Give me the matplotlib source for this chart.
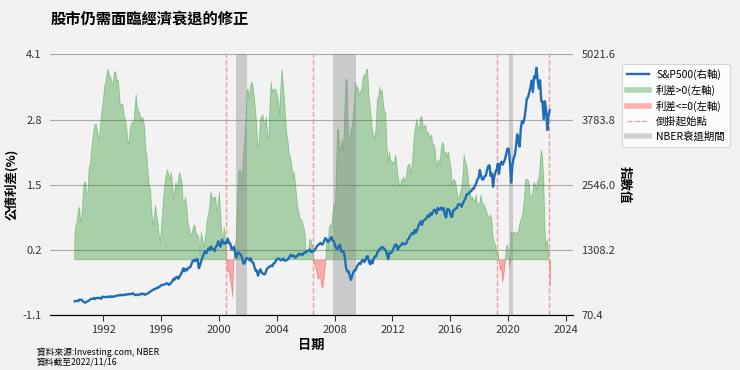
import numpy as np
import pandas as pd
import matplotlib
matplotlib.use('Agg')
import matplotlib.pyplot as plt
from matplotlib.lines import Line2D

plt.rcParams['font.family'] = ['Noto Sans CJK TC', 'DejaVu Sans']

# monthly points, Jan 1990 - Nov 2022
dates = pd.date_range('1990-01-01', '2022-11-01', freq='MS') + pd.Timedelta(days=14)

# 10Y - 3M treasury spread (%)
spread = np.array([
    0.45, 0.70, 0.75, 1.00, 1.05, 0.75, 0.85, 1.30, 1.55, 1.55, 1.30, 1.35,
    1.85, 1.90, 2.20, 2.40, 2.60, 2.70, 2.70, 2.55, 2.40, 2.55, 2.85, 3.05,
    3.25, 3.50, 3.55, 3.75, 3.80, 3.65, 3.65, 3.50, 3.55, 3.75, 3.75, 3.55,
    3.60, 3.35, 3.05, 3.10, 3.10, 2.90, 2.80, 2.65, 2.40, 2.30, 2.60, 2.70,
    2.75, 2.75, 3.00, 3.30, 3.05, 2.95, 2.95, 2.75, 2.85, 2.80, 2.65, 2.20,
    2.05, 1.70, 1.45, 1.40, 0.95, 0.70, 0.85, 1.10, 0.90, 0.75, 0.50, 0.35,
    0.65, 1.00, 1.30, 1.55, 1.70, 1.80, 1.70, 1.60, 1.75, 1.55, 1.20, 1.40,
    1.55, 1.40, 1.55, 1.75, 1.65, 1.55, 1.15, 1.15, 1.25, 1.05, 0.75, 0.65,
    0.50, 0.50, 0.60, 0.70, 0.65, 0.50, 0.50, 0.45, 0.10, 0.55, 0.40, 0.25,
    0.40, 0.55, 0.80, 0.90, 1.05, 1.35, 1.25, 1.20, 1.25, 1.25, 0.95, 1.10,
    1.35, 0.95, 0.55, 0.35, 0.65, 0.40, 0.05, -0.25, -0.20, -0.40, -0.50, -0.75,
    0.00, 0.20, 0.45, 1.25, 1.75, 1.80, 1.75, 1.60, 2.10, 2.40, 2.80, 3.40,
    3.40, 3.20, 3.50, 3.55, 3.45, 3.25, 3.00, 2.65, 2.25, 2.35, 2.80, 2.85,
    2.90, 2.75, 2.70, 2.85, 2.50, 2.40, 3.10, 3.55, 3.35, 3.40, 3.40, 3.40,
    3.30, 3.15, 2.90, 3.45, 3.80, 3.50, 3.20, 2.80, 2.50, 2.35, 2.10, 2.05,
    1.90, 1.65, 1.75, 1.55, 1.30, 1.05, 0.95, 0.80, 0.80, 0.75, 0.65, 0.55,
    0.15, 0.10, 0.20, 0.40, 0.40, 0.30, 0.10, -0.10, -0.15, -0.25, -0.40, -0.35,
    -0.35, -0.55, -0.55, -0.35, -0.10, 0.40, 0.15, 0.60, 0.70, 0.65, 0.90, 1.10,
    1.00, 1.65, 2.60, 2.60, 2.15, 2.25, 2.40, 2.20, 3.00, 3.60, 3.60, 2.45,
    2.40, 2.60, 2.65, 2.80, 3.15, 3.55, 3.40, 3.45, 3.30, 3.35, 3.40, 3.60,
    3.70, 3.65, 3.80, 3.80, 3.30, 3.10, 2.85, 2.55, 2.50, 2.40, 2.65, 3.20,
    3.25, 3.45, 3.30, 3.40, 3.15, 2.95, 2.95, 2.30, 1.95, 2.15, 2.00, 1.95,
    1.95, 1.90, 2.10, 1.95, 1.70, 1.55, 1.45, 1.60, 1.60, 1.65, 1.55, 1.65,
    1.85, 1.90, 1.90, 1.70, 1.90, 2.25, 2.55, 2.70, 2.80, 2.60, 2.65, 2.85,
    2.85, 2.65, 2.65, 2.70, 2.55, 2.55, 2.50, 2.40, 2.50, 2.30, 2.30, 2.20,
    1.85, 1.95, 2.00, 1.90, 2.20, 2.35, 2.30, 2.10, 2.15, 2.05, 2.15, 2.00,
    1.85, 1.50, 1.60, 1.60, 1.55, 1.40, 1.20, 1.25, 1.35, 1.45, 1.70, 2.10,
    1.95, 1.90, 1.75, 1.50, 1.40, 1.20, 1.25, 1.20, 1.15, 1.30, 1.10, 1.10,
    1.15, 1.30, 1.15, 1.10, 1.10, 1.00, 0.95, 0.85, 0.85, 0.90, 0.80, 0.45,
    0.35, 0.30, 0.15, 0.15, 0.00, -0.20, -0.15, -0.45, -0.30, -0.05, 0.25, 0.30,
    0.15, -0.15, 0.55, 0.50, 0.55, 0.55, 0.50, 0.55, 0.55, 0.70, 0.80, 0.85,
    1.00, 1.25, 1.60, 1.60, 1.60, 1.50, 1.25, 1.25, 1.35, 1.55, 1.50, 1.40,
    1.60, 1.60, 1.90, 2.20, 2.05, 1.65, 0.65, 0.25, 0.40, 0.10, -0.50,
])

# S&P 500 monthly close
sp500 = np.array([
    329.08, 331.89, 339.94, 330.80, 361.23, 358.02, 356.15, 322.56, 306.05, 304.00, 322.22, 330.22,
    343.93, 367.07, 375.22, 375.35, 389.83, 371.16, 387.81, 395.43, 387.86, 392.45, 375.22, 417.09,
    408.79, 412.70, 403.69, 414.95, 415.35, 408.14, 424.21, 414.03, 417.80, 418.68, 431.35, 435.71,
    438.78, 443.38, 451.67, 440.19, 450.19, 450.53, 448.13, 463.56, 458.93, 467.83, 461.79, 466.45,
    481.61, 467.14, 445.77, 450.91, 456.50, 444.27, 458.26, 475.49, 462.69, 472.35, 453.69, 459.27,
    470.42, 487.39, 500.71, 514.71, 533.40, 544.75, 562.06, 561.88, 584.41, 581.50, 605.37, 615.93,
    636.02, 640.43, 645.50, 654.17, 669.12, 670.63, 639.95, 651.99, 687.33, 705.27, 757.02, 740.74,
    786.16, 790.82, 757.12, 801.34, 848.28, 885.14, 954.31, 899.47, 947.28, 914.62, 955.40, 970.43,
    980.28, 1049.34, 1101.75, 1111.75, 1090.82, 1133.84, 1120.67, 957.28, 1017.01, 1098.67, 1163.63, 1229.23,
    1279.64, 1238.33, 1286.37, 1335.18, 1301.84, 1372.71, 1328.72, 1320.41, 1282.71, 1362.93, 1388.91, 1469.25,
    1394.46, 1366.42, 1498.58, 1452.43, 1420.60, 1454.60, 1430.83, 1517.68, 1436.51, 1429.40, 1314.95, 1320.28,
    1366.01, 1239.94, 1160.33, 1249.46, 1255.82, 1224.38, 1211.23, 1133.58, 1040.94, 1059.78, 1139.45, 1148.08,
    1130.20, 1106.73, 1147.39, 1076.92, 1067.14, 989.82, 911.62, 916.07, 815.28, 885.76, 936.31, 879.82,
    855.70, 841.15, 848.18, 916.92, 963.59, 974.50, 990.31, 1008.01, 995.97, 1050.71, 1058.20, 1111.92,
    1131.13, 1144.94, 1126.21, 1107.30, 1120.68, 1140.84, 1101.72, 1104.24, 1114.58, 1130.20, 1173.82, 1211.92,
    1181.27, 1203.60, 1180.59, 1156.85, 1191.50, 1191.33, 1234.18, 1220.33, 1228.81, 1207.01, 1249.48, 1248.29,
    1280.08, 1280.66, 1294.87, 1310.61, 1270.09, 1270.20, 1276.66, 1303.82, 1335.85, 1377.94, 1400.63, 1418.30,
    1438.24, 1406.82, 1420.86, 1482.37, 1530.62, 1503.35, 1455.27, 1473.99, 1526.75, 1549.38, 1481.14, 1468.36,
    1378.55, 1330.63, 1322.70, 1385.59, 1400.38, 1280.00, 1267.38, 1282.83, 1166.36, 968.75, 896.24, 903.25,
    825.88, 735.09, 797.87, 872.81, 919.14, 919.32, 987.48, 1020.62, 1057.08, 1036.19, 1095.63, 1115.10,
    1073.87, 1104.49, 1169.43, 1186.69, 1089.41, 1030.71, 1101.60, 1049.33, 1141.20, 1183.26, 1180.55, 1257.64,
    1286.12, 1327.22, 1325.83, 1363.61, 1345.20, 1320.64, 1292.28, 1218.89, 1131.42, 1253.30, 1246.96, 1257.60,
    1312.41, 1365.68, 1408.47, 1397.91, 1310.33, 1362.16, 1379.32, 1406.58, 1440.67, 1412.16, 1416.18, 1426.19,
    1498.11, 1514.68, 1569.19, 1597.57, 1630.74, 1606.28, 1685.73, 1632.97, 1681.55, 1756.54, 1805.81, 1848.36,
    1782.59, 1859.45, 1872.34, 1883.95, 1923.57, 1960.23, 1930.67, 2003.37, 1972.29, 2018.05, 2067.56, 2058.90,
    1994.99, 2104.50, 2067.89, 2085.51, 2107.39, 2063.11, 2103.84, 1972.18, 1920.03, 2079.36, 2080.41, 2043.94,
    1940.24, 1932.23, 2059.74, 2065.30, 2096.95, 2098.86, 2173.60, 2170.95, 2168.27, 2126.15, 2198.81, 2238.83,
    2278.87, 2363.64, 2362.72, 2384.20, 2411.80, 2423.41, 2470.30, 2471.65, 2519.36, 2575.26, 2647.58, 2673.61,
    2823.81, 2713.83, 2640.87, 2648.05, 2705.27, 2718.37, 2816.29, 2901.52, 2913.98, 2711.74, 2760.17, 2506.85,
    2704.10, 2784.49, 2834.40, 2945.83, 2752.06, 2941.76, 2980.38, 2926.46, 2976.74, 3037.56, 3140.98, 3230.78,
    3225.52, 2954.22, 2584.59, 2912.43, 3044.31, 3100.29, 3271.12, 3500.31, 3363.00, 3269.96, 3621.63, 3756.07,
    3714.24, 3811.15, 3972.89, 4181.17, 4204.11, 4297.50, 4395.26, 4522.68, 4307.54, 4605.38, 4567.00, 4766.18,
    4515.55, 4373.94, 4530.41, 4131.93, 4132.15, 3785.38, 4130.29, 3955.00, 3585.62, 3871.98, 3958.79,
])

recessions = [('2001-03-01', '2001-11-30'), ('2007-12-01', '2009-06-30'), ('2020-02-01', '2020-04-30')]
inversion_starts = ['2000-07-10', '2006-07-10', '2019-03-22', '2022-10-25']

left_ticks = np.linspace(-1.1, 4.1, 5)
right_ticks = np.linspace(70.4, 5021.6, 5)
year_ticks = list(range(1992, 2025, 4))

bg = '#f2f2f2'
fig = plt.figure(figsize=(7.4, 3.7), dpi=100, facecolor=bg)
ax1 = fig.add_axes([0.0676, 0.149, 0.7068, 0.704])
ax1.set_facecolor(bg)

ax1.fill_between(dates, 0, spread, where=spread > 0, interpolate=True, color='green', alpha=0.3, lw=0.6)
ax1.fill_between(dates, 0, spread, where=spread <= 0, interpolate=True, color='red', alpha=0.3, lw=0.6)

for start, end in recessions:
    ax1.axvspan(pd.Timestamp(start), pd.Timestamp(end), color='gray', alpha=0.35, lw=0)
for d in inversion_starts:
    ax1.axvline(pd.Timestamp(d), color='#f08080', ls='--', lw=1, alpha=0.75)

ax1.set_ylim(-1.1, 4.1)
ax1.set_yticks(left_ticks)
ax1.set_yticklabels(['%.1f' % v for v in left_ticks])
ax1.grid(axis='y', color='#a8a8a8', lw=0.8)
ax1.set_axisbelow(True)
ax1.set_xticks([pd.Timestamp('%d-01-01' % y) for y in year_ticks])
ax1.set_xticklabels([str(y) for y in year_ticks])
ax1.set_xlim(pd.Timestamp('1988-05-01'), pd.Timestamp('2024-06-25'))

ax2 = ax1.twinx()
ax2.plot(dates, sp500, color='#1f6eb5', lw=1.7)
ax2.set_ylim(70.4, 5021.6)
ax2.set_yticks(right_ticks)
ax2.set_yticklabels(['%.1f' % v for v in right_ticks])

for ax in (ax1, ax2):
    for s in ('top', 'left', 'right'):
        ax.spines[s].set_visible(False)
    ax.spines['bottom'].set_color('black')
    ax.tick_params(axis='y', length=0, labelsize=8, colors='#333333', pad=6)
    ax.tick_params(axis='x', labelsize=8, colors='#333333', length=4)

ax1.set_ylabel('公債利差(%)', fontsize=9, fontweight='bold', labelpad=3)
ax2.set_ylabel('指數值', fontsize=9, fontweight='bold', rotation=270, labelpad=11)
ax1.set_xlabel('日期', fontsize=9.5, fontweight='bold', labelpad=2)

handles = [
    Line2D([], [], color='#1f6eb5', lw=1.7),
    Line2D([], [], color='green', alpha=0.3, lw=4),
    Line2D([], [], color='red', alpha=0.3, lw=4),
    Line2D([], [], color='#f08080', ls='--', lw=1, alpha=0.75),
    Line2D([], [], color='gray', alpha=0.35, lw=4),
]
labels = ['S&P500(右軸)', '利差>0(左軸)', '利差<=0(左軸)', '倒掛起始點', 'NBER衰退期間']
leg = ax1.legend(handles, labels, loc='upper left', bbox_to_anchor=(1.083, 0.985),
                 fontsize=7.5, frameon=True, facecolor='white', edgecolor='#cccccc',
                 handlelength=2.1, handletextpad=0.7, borderpad=0.5, labelspacing=0.45)
leg.get_frame().set_linewidth(0.8)

fig.text(0.068, 0.949, '股市仍需面臨經濟衰退的修正', fontsize=11, fontweight='bold', va='center')
fig.text(0.05, 0.049, '資料來源:Investing.com, NBER', fontsize=6.3, va='center')
fig.text(0.05, 0.020, '資料截至2022/11/16', fontsize=6.3, va='center')

fig.savefig('out.png', dpi=100, facecolor=bg)
